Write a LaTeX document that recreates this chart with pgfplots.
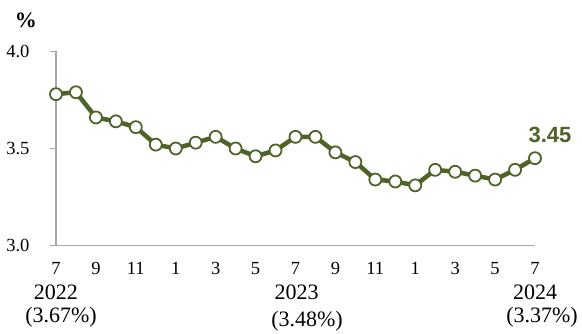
\documentclass[border=0pt]{standalone}
\usepackage{pgfplots}
\pgfplotsset{compat=1.18}
\usepackage{fontspec}
\setmainfont{Liberation Serif}
\newfontfamily\arialf{Liberation Sans}
\definecolor{olivec}{HTML}{4F6228}
\definecolor{axgray}{HTML}{A6A6A6}
\begin{document}
\begin{tikzpicture}[x=1pt,y=1pt]
\useasboundingbox (0,0) rectangle (582,334);
\begin{axis}[
  at={(56pt,88.5pt)}, anchor=south west,
  width=479pt, height=194pt, scale only axis,
  xmin=0, xmax=24, ymin=3, ymax=4,
  axis lines=left,
  axis line style={-, draw=axgray, line width=1.5pt},
  xtick={0,2,...,24},
  xticklabels={7,9,11,1,3,5,7,9,11,1,3,5,7},
  ytick={3,3.5,4},
  yticklabels={3.0,3.5,4.0},
  tick align=outside,
  major tick length=6pt,
  tick style={draw=axgray, line width=1.5pt},
  xtick style={draw=none},
  tick label style={font=\fontsize{18.5}{22}\selectfont, text=black},
  xticklabel style={yshift=-7pt},
  yticklabel style={xshift=-17pt},
  clip=false,
]
\addplot[color=olivec, line width=4.5pt, mark=*, mark size=6pt,
  mark options={fill=white, draw=olivec, line width=1.8pt}]
  coordinates {
  (0,3.78) (1,3.79) (2,3.66) (3,3.64) (4,3.61) (5,3.52) (6,3.50)
  (7,3.53) (8,3.56) (9,3.50) (10,3.46) (11,3.49) (12,3.56) (13,3.56)
  (14,3.48) (15,3.43) (16,3.34) (17,3.33) (18,3.31) (19,3.39) (20,3.38)
  (21,3.36) (22,3.34) (23,3.39) (24,3.45)
  };
\end{axis}
\node[font=\bfseries\fontsize{22}{26}\selectfont, inner sep=0pt] at (26,314) {\%};
\node[font=\arialf\bfseries\fontsize{22}{26}\selectfont, text=olivec] at (550,199) {3.45};
\begin{scope}[every node/.style={font=\fontsize{22}{26}\selectfont, inner sep=0pt}]
\node at (56,41.5) {2022};
\node at (61,17) {(3.67\%)};
\node at (296.5,41.5) {2023};
\node at (307,13) {(3.48\%)};
\node at (535,41.5) {2024};
\node at (542,17) {(3.37\%)};
\end{scope}
\end{tikzpicture}
\end{document}
